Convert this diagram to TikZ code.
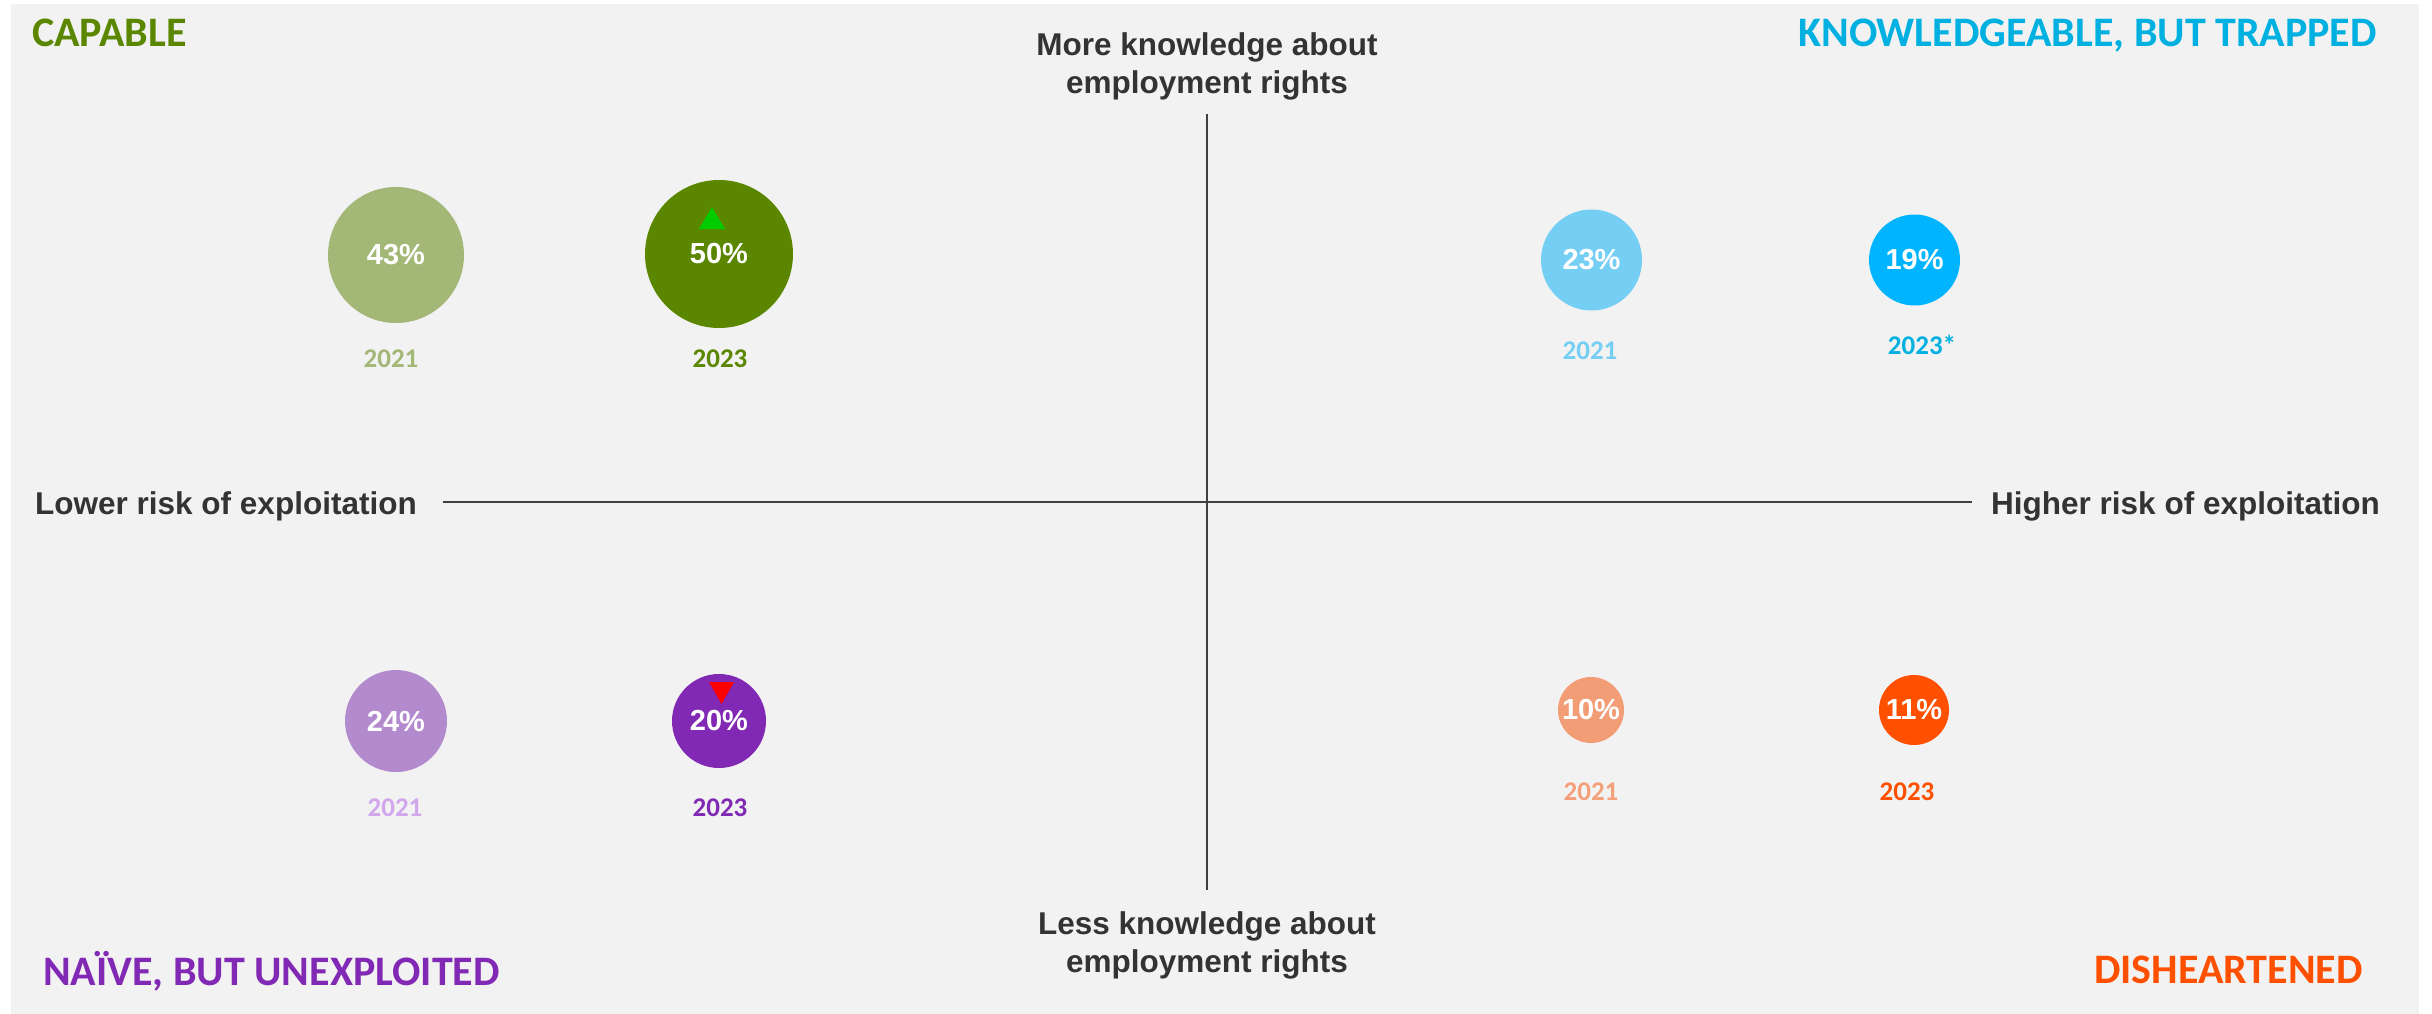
\documentclass[tikz,border=0pt]{standalone}
\usepackage{fontspec}
\setmainfont{Liberation Sans}
\newfontfamily\calib{Carlito}
\definecolor{bgray}{HTML}{F2F2F2}
\definecolor{axisc}{HTML}{404040}
\definecolor{labc}{HTML}{333333}
\definecolor{gDark}{HTML}{5B8700}
\definecolor{gLight}{HTML}{A3B777}
\definecolor{bDark}{HTML}{00B4FF}
\definecolor{bText}{HTML}{00B0E0}
\definecolor{bLight}{HTML}{75CEF4}
\definecolor{pDark}{HTML}{8129B5}
\definecolor{pLight}{HTML}{B48ACF}
\definecolor{pYear}{HTML}{D2A6EC}
\definecolor{oDark}{HTML}{FF5000}
\definecolor{oLight}{HTML}{F39D77}
\definecolor{oYear}{HTML}{F4A07A}
\definecolor{upG}{HTML}{00CC00}
\definecolor{downR}{HTML}{FF0000}
\tikzset{
  bubble/.style={circle, inner sep=0pt, text=white,
    font=\fontsize{29}{35}\selectfont\bfseries},
  yearlab/.style={anchor=base, inner sep=0pt,
    font=\calib\fontsize{27}{32}\selectfont\bfseries},
  quadtitle/.style={inner sep=0pt,
    font=\calib\fontsize{42}{50}\selectfont\bfseries},
  axislab/.style={inner sep=0pt, text=labc, align=center,
    font=\fontsize{31.5}{38}\selectfont\bfseries},
  axisline/.style={draw=axisc, line width=2.5pt}
}
\begin{document}
\begin{tikzpicture}[x=1pt,y=-1pt]
\useasboundingbox (0,0) rectangle (2432,1014);
\fill[white] (0,0) rectangle (2432,1014);
\fill[bgray] (11,4) rectangle (2419,1014);

% axes
\coordinate (vtop) at (1207,114);
\coordinate (vbot) at (1207,890);
\coordinate (hleft) at (443,502);
\coordinate (hright) at (1972,502);
\draw[axisline] (vtop) -- (vbot);
\draw[axisline] (hleft) -- (hright);

% axis labels
\node[axislab] (more) at (1207,66) {More knowledge about\\employment rights};
\node[axislab] (less) at (1207,945.5) {Less knowledge about\\employment rights};
\node[axislab, anchor=base west] (lower) at (35,514) {Lower risk of exploitation};
\node[axislab, anchor=base west] (higher) at (1991,514) {Higher risk of exploitation};

% quadrant titles
\node[quadtitle, text=gDark, anchor=base west] (capable) at (32,47) {CAPABLE};
\node[quadtitle, text=bText, anchor=base east] (knowl) at (2377,47) {KNOWLEDGEABLE, BUT TRAPPED};
\node[quadtitle, text=pDark, anchor=base west] (naive) at (43,985) {NAÏVE, BUT UNEXPLOITED};
\node[quadtitle, text=oDark, anchor=base east] (dish) at (2363,983) {DISHEARTENED};

% capable
\node[bubble, fill=gLight, minimum size=136pt] (c21) at (396,255) {43\%};
\node[bubble, fill=gDark, minimum size=148pt] (c23) at (719,254) {50\%};
\fill[upG] (712,207) -- (725,229) -- (699,229) -- cycle;
\node[yearlab, text=gLight] (cy21) at (391,367) {2021};
\node[yearlab, text=gDark] (cy23) at (720,367) {2023};

% knowledgeable but trapped
\node[bubble, fill=bLight, minimum size=101pt] (k21) at (1591.5,260) {23\%};
\node[bubble, fill=bDark, minimum size=91pt] (k23) at (1914.5,260) {19\%};
\node[yearlab, text=bLight] (ky21) at (1590,359) {2021};
\node[yearlab, text=bText] (ky23) at (1922,354) {2023*};

% naive but unexploited
\node[bubble, fill=pLight, minimum size=102pt] (n21) at (396,721) {24\%};
\node[bubble, fill=pDark, minimum size=94pt] (n23) at (719,721) {20\%};
\fill[downR] (709,682) -- (734,682) -- (721.5,704) -- cycle;
\node[yearlab, text=pYear] (ny21) at (395,816) {2021};
\node[yearlab, text=pDark] (ny23) at (720,816) {2023};

% disheartened
\node[bubble, fill=oLight, minimum size=66pt] (d21) at (1591,710) {10\%};
\node[bubble, fill=oDark, minimum size=70pt] (d23) at (1914,710) {11\%};
\node[yearlab, text=oYear] (dy21) at (1591,800) {2021};
\node[yearlab, text=oDark] (dy23) at (1907,800) {2023};
\end{tikzpicture}
\end{document}
